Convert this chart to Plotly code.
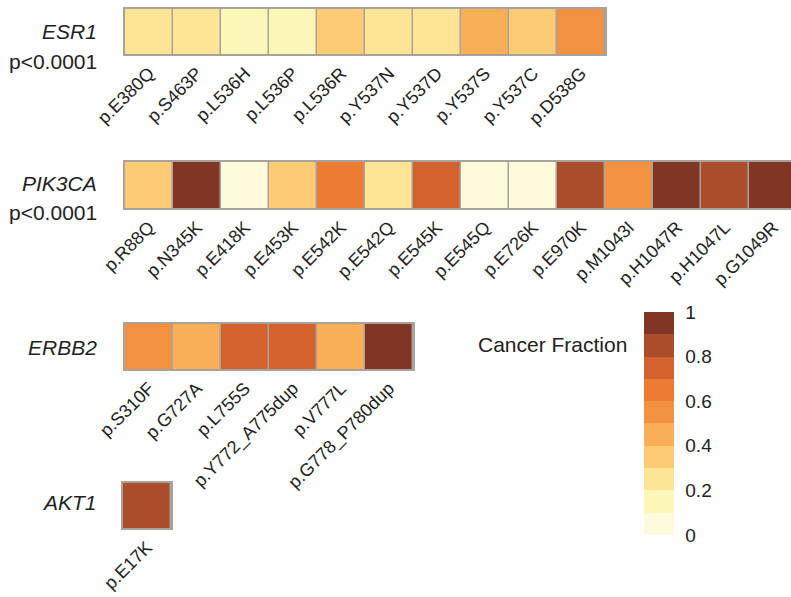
import plotly.graph_objects as go

W, H = 791, 597

genes = ["ESR1", "PIK3CA", "ERBB2", "AKT1"]
pvalues = ["p<0.0001", "p<0.0001", "", ""]

esr1_mut = ["p.E380Q", "p.S463P", "p.L536H", "p.L536P", "p.L536R",
            "p.Y537N", "p.Y537D", "p.Y537S", "p.Y537C", "p.D538G"]
esr1_val = [0.25, 0.25, 0.15, 0.15, 0.35, 0.25, 0.25, 0.45, 0.35, 0.55]

pik3ca_mut = ["p.R88Q", "p.N345K", "p.E418K", "p.E453K", "p.E542K", "p.E542Q",
              "p.E545K", "p.E545Q", "p.E726K", "p.E970K", "p.M1043I",
              "p.H1047R", "p.H1047L", "p.G1049R"]
pik3ca_val = [0.35, 0.95, 0.05, 0.35, 0.65, 0.25, 0.75, 0.05, 0.05, 0.85, 0.55,
              0.95, 0.85, 0.95]

erbb2_mut = ["p.S310F", "p.G727A", "p.L755S", "p.Y772_A775dup", "p.V777L",
             "p.G778_P780dup"]
erbb2_val = [0.55, 0.45, 0.75, 0.75, 0.45, 0.95]

akt1_mut = ["p.E17K"]
akt1_val = [0.85]

bin_colors = ["#FEFADC", "#FCF6B8", "#FDE595", "#FDCA75", "#F9AF55",
              "#F29240", "#EE7B34", "#D3622E", "#AA4D2B", "#803625"]
colorbar_ticks = [0, 0.2, 0.4, 0.6, 0.8, 1]
colorbar_title = "Cancer Fraction"

# stepped colorscale
cs = []
n = len(bin_colors)
for i, c in enumerate(bin_colors):
    cs.append([i / n, c])
    cs.append([(i + 1) / n, c])

FONT = "Liberation Sans, Arial, sans-serif"
TXT = "#222222"
BORDER = "#A8A29A"
CELL_W = 48

# layout geometry in pixels: (x0, x1, ytop, ybottom)
boxes = [
    (125, 605, 9, 54),
    (125, 791, 162, 208),
    (125, 413, 324, 369),
    (123, 171, 483, 528),
]
label_y = [(32, 61), (184, 212), (347, None), (503, None)]

rows = [(esr1_mut, esr1_val), (pik3ca_mut, pik3ca_val),
        (erbb2_mut, erbb2_val), (akt1_mut, akt1_val)]

fig = go.Figure()
layout = dict(
    width=W, height=H, margin=dict(l=0, r=0, t=0, b=0, autoexpand=False),
    paper_bgcolor="white", plot_bgcolor=BORDER,
    font=dict(family=FONT, color=TXT), showlegend=False,
)
annotations = []

for i, ((muts, vals), g, p, box, ly) in enumerate(zip(rows, genes, pvalues, boxes, label_y)):
    k = "" if i == 0 else str(i + 1)
    x0, x1, yt, yb = box
    fig.add_trace(go.Heatmap(
        z=[vals], x=muts, y=[g],
        xaxis="x" + k, yaxis="y" + k,
        colorscale=cs, zmin=0, zmax=1,
        xgap=1.5, ygap=0,
        showscale=(i == 0),
        colorbar=dict(
            tickvals=colorbar_ticks, ticktext=[f"{t:g}" for t in colorbar_ticks],
            thickness=30, len=223, lenmode="pixels",
            x=644 / W, xanchor="left", xpad=0,
            y=1 - 423.5 / H, yanchor="middle", ypad=0,
            outlinewidth=0, ticks="outside", ticklen=8, tickcolor="rgba(0,0,0,0)",
            tickfont=dict(size=19, color=TXT, family=FONT),
        ),
        hovertemplate="%{x}: %{z}<extra>" + g + "</extra>",
    ))
    ncells = (x1 - x0) / CELL_W
    layout["xaxis" + k] = dict(
        domain=[x0 / W, x1 / W], anchor="y" + k,
        range=[-0.5, -0.5 + ncells], type="category", automargin=False,
        tickangle=-45, ticks="", showgrid=False, zeroline=False,
        showline=True, linecolor=BORDER, linewidth=1.5, mirror=True,
        tickfont=dict(size=18, color=TXT, family=FONT), fixedrange=True,
    )
    layout["yaxis" + k] = dict(
        domain=[1 - yb / H, 1 - yt / H], anchor="x" + k, automargin=False,
        range=[-0.5, 0.5], showticklabels=False, ticks="",
        showgrid=False, zeroline=False,
        showline=True, linecolor=BORDER, linewidth=1.5, mirror=(i != 1),
        fixedrange=True,
    )
    annotations.append(dict(
        text="<i>" + g + "</i>", x=99 / W, y=1 - ly[0] / H,
        xref="paper", yref="paper", xanchor="right", yanchor="middle",
        showarrow=False, font=dict(size=21, color=TXT, family=FONT),
    ))
    if p:
        annotations.append(dict(
            text=p, x=99 / W, y=1 - ly[1] / H,
            xref="paper", yref="paper", xanchor="right", yanchor="middle",
            showarrow=False, font=dict(size=21, color=TXT, family=FONT),
        ))

annotations.append(dict(
    text=colorbar_title, x=629 / W, y=1 - 344 / H,
    xref="paper", yref="paper", xanchor="right", yanchor="middle",
    showarrow=False, font=dict(size=21, color=TXT, family=FONT),
))
layout["annotations"] = annotations
fig.update_layout(**layout)

fig.write_html(
    "out.html",
    config={"displayModeBar": False},
    post_script="document.body.style.margin='0';document.body.style.padding='0';",
)
